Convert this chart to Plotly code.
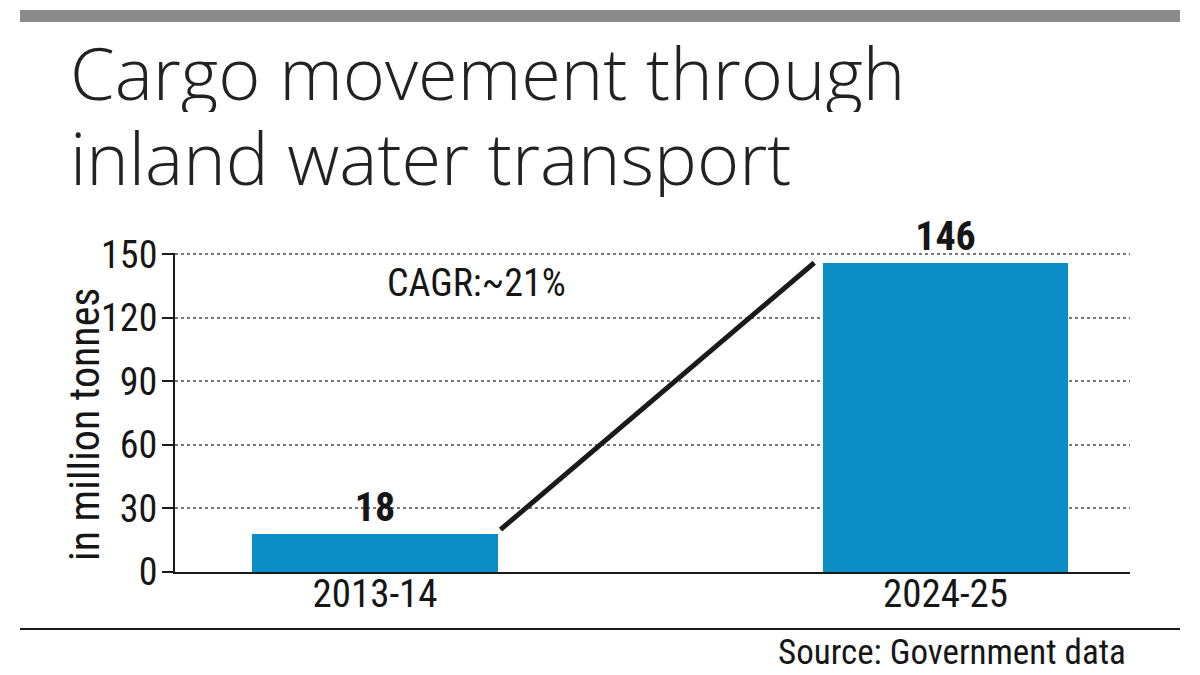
import plotly.graph_objects as go

categories = ["2013-14", "2024-25"]
values = [18, 146]
y_ticks = [0, 30, 60, 90, 120, 150]
title_lines = ["Cargo movement through", "inland water transport"]
y_title = "in million tonnes"
cagr_text = "CAGR:~21%"
source_text = "Source: Government data"

W, H = 1200, 675
L, R, T, B = 175, 70, 253, 103
pw, ph = W - L - R, H - T - B

def px_x(px):
    return (px - L) / pw

def px_y(py):
    return (H - B - py) / ph

COND = "Roboto Condensed, DejaVu Sans Condensed, sans-serif"
def cf(size, weight="normal", color="#161616"):
    return dict(family=COND, size=size, color=color, weight=weight)

BAR_W = 0.43
xpos = list(range(len(categories)))

fig = go.Figure()
fig.add_trace(go.Bar(
    x=xpos, y=values, width=BAR_W, marker=dict(color="#0b8ec5", line=dict(width=0)),
    text=[str(v) for v in values], textposition="outside",
    textfont=cf(40, "bold"),
    cliponaxis=False, hoverinfo="skip",
))
fig.add_trace(go.Scatter(
    x=[xpos[0] + BAR_W / 2 + 0.005, xpos[1] - BAR_W / 2 - 0.015],
    y=[values[0] + 2, values[1]],
    mode="lines", line=dict(color="#1a1a1a", width=5), hoverinfo="skip",
))

fig.update_layout(
    width=W, height=H, margin=dict(l=L, r=R, t=T, b=B),
    paper_bgcolor="white", plot_bgcolor="white", showlegend=False,
    bargap=0,
    xaxis=dict(
        range=[-0.3506, 1.3234], tickvals=xpos, ticktext=categories,
        showgrid=False, zeroline=False, showline=True, linecolor="#1a1a1a", linewidth=2,
        ticks="", tickfont=cf(39), ticklabelstandoff=-14,
    ),
    yaxis=dict(
        range=[0, 150.6], tickvals=y_ticks, ticktext=[str(v) for v in y_ticks],
        showgrid=True, gridcolor="#777", griddash="dot", gridwidth=1.5,
        zeroline=False, showline=True, linecolor="#1a1a1a", linewidth=2,
        ticks="outside", ticklen=11, tickwidth=2, tickcolor="#1a1a1a",
        tickfont=cf(38), ticklabelstandoff=-3,
    ),
)

shapes = [
    dict(type="rect", xref="paper", yref="paper", x0=px_x(20), x1=px_x(1180),
         y0=px_y(22), y1=px_y(10), fillcolor="#8a8a8a", line=dict(width=0)),
    dict(type="line", xref="paper", yref="paper", x0=px_x(20), x1=px_x(1180),
         y0=px_y(629), y1=px_y(629), line=dict(color="#1a1a1a", width=2)),
]
fig.update_layout(shapes=shapes)

TITLE_FONT = dict(family="Open Sans, Noto Sans, sans-serif", size=72, color="#222", weight=300)
fig.add_annotation(text=title_lines[0], xref="paper", yref="paper", x=px_x(68), y=px_y(72),
                   xanchor="left", yanchor="middle", showarrow=False, font=TITLE_FONT, height=80)
fig.add_annotation(text=title_lines[1], xref="paper", yref="paper", x=px_x(68), y=px_y(157),
                   xanchor="left", yanchor="middle", showarrow=False, font=TITLE_FONT, height=80)
fig.add_annotation(text=y_title, xref="paper", yref="paper", x=px_x(84), y=px_y(424),
                   xanchor="center", yanchor="middle", textangle=-90, showarrow=False,
                   font=cf(42))
fig.add_annotation(text=cagr_text, xref="paper", yref="paper", x=px_x(476), y=px_y(283),
                   xanchor="center", yanchor="middle", showarrow=False,
                   font=cf(38))
fig.add_annotation(text=source_text, xref="paper", yref="paper", x=px_x(1128), y=px_y(652),
                   xanchor="right", yanchor="middle", showarrow=False,
                   font=cf(35))

fig.write_html("out.html")
